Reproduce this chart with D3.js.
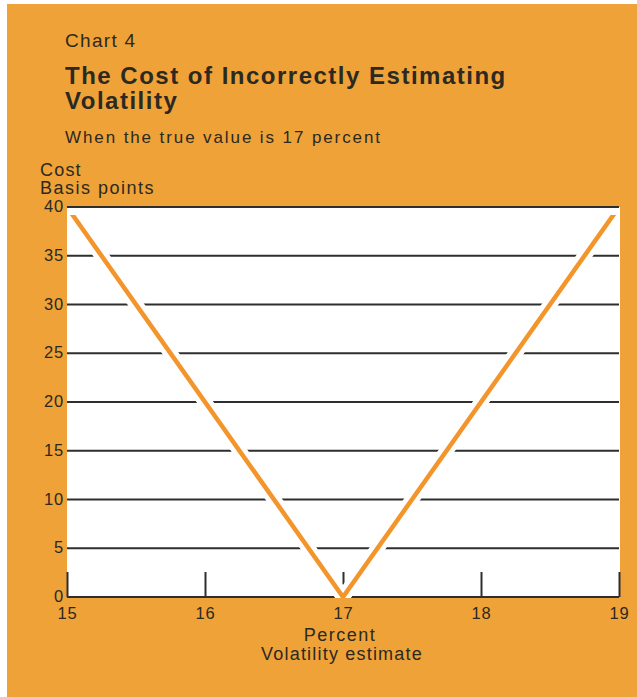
<!DOCTYPE html>
<html>
<head>
<meta charset="utf-8">
<script src="https://cdn.jsdelivr.net/npm/d3@7"></script>
<style>
  html, body { margin: 0; padding: 0; background: #ffffff; }
  svg { display: block; }
  text { font-family: "Liberation Sans", Arial, Helvetica, sans-serif; fill: #2b2922; }
</style>
</head>
<body>
<script>
// Cost of mis-estimating volatility (true value 17 percent)
const volatilityEstimate = [15, 17, 19];      // percent
const costBasisPoints   = [40, 0, 40];        // basis points
const yTickValues = [0, 5, 10, 15, 20, 25, 30, 35, 40];
const xTickValues = [15, 16, 17, 18, 19];

const W = 637, H = 697;
const plot = { left: 67, right: 619, top: 207, bottom: 597 };

const svg = d3.select("body").append("svg")
  .attr("width", W).attr("height", H);

// page panel
svg.append("rect").attr("x", 7).attr("y", 4)
  .attr("width", W - 7).attr("height", H - 4)
  .attr("fill", "#efa237");

// headings
svg.append("text").attr("x", 65).attr("y", 47)
  .style("font-size", "19px").style("letter-spacing", "1.3px")
  .text("Chart 4");
svg.append("text").attr("x", 65).attr("y", 84)
  .style("font-size", "24px").style("font-weight", "bold").style("letter-spacing", "1.5px")
  .text("The Cost of Incorrectly Estimating");
svg.append("text").attr("x", 65).attr("y", 109)
  .style("font-size", "24px").style("font-weight", "bold").style("letter-spacing", "1.5px")
  .text("Volatility");
svg.append("text").attr("x", 65).attr("y", 143)
  .style("font-size", "17px").style("letter-spacing", "1.9px")
  .text("When the true value is 17 percent");
svg.append("text").attr("x", 40).attr("y", 176)
  .style("font-size", "18px").style("letter-spacing", "1.2px")
  .text("Cost");
svg.append("text").attr("x", 40).attr("y", 194)
  .style("font-size", "18px").style("letter-spacing", "1.5px")
  .text("Basis points");

const x = d3.scaleLinear().domain([15, 19]).range([plot.left, plot.right]);
const y = d3.scaleLinear().domain([0, 40]).range([plot.bottom, plot.top]);

// white plotting field
svg.append("rect")
  .attr("x", plot.left).attr("y", plot.top)
  .attr("width", plot.right - plot.left + 1).attr("height", plot.bottom - plot.top)
  .attr("fill", "#ffffff");

// horizontal rules at every y tick
const gridG = svg.append("g");
gridG.selectAll("line.grid").data(yTickValues).join("line")
  .attr("class", "grid")
  .attr("x1", plot.left).attr("x2", plot.right)
  .attr("y1", d => y(d)).attr("y2", d => y(d))
  .attr("stroke", "#2e2e2e").attr("stroke-width", 2);

// x axis ticks rising from the baseline
const xAxis = d3.axisBottom(x).tickValues(xTickValues).tickSize(-25).tickFormat("");
const xAxisG = svg.append("g").attr("transform", `translate(0,${plot.bottom})`).call(xAxis);
xAxisG.select(".domain").remove();
xAxisG.selectAll(".tick line").attr("stroke", "#2e2e2e").attr("stroke-width", 2);

// tick labels
svg.append("g").selectAll("text").data(yTickValues).join("text")
  .attr("x", 64).attr("y", d => y(d) + 5)
  .attr("text-anchor", "end")
  .style("font-size", "16.5px").style("letter-spacing", "0.8px")
  .text(d => d);
svg.append("g").selectAll("text").data(xTickValues).join("text")
  .attr("x", d => x(d) + 0.5).attr("y", 619)
  .attr("text-anchor", "middle")
  .style("font-size", "16.5px").style("letter-spacing", "0.8px")
  .text(d => d);

// axis title
svg.append("text").attr("x", 340).attr("y", 641).attr("text-anchor", "middle")
  .style("font-size", "18px").style("letter-spacing", "1.5px")
  .text("Percent");
svg.append("text").attr("x", 342).attr("y", 660).attr("text-anchor", "middle")
  .style("font-size", "18px").style("letter-spacing", "1.2px")
  .text("Volatility estimate");

// cost curve: white knockout under the orange stroke breaks the rules where it crosses
const defs = svg.append("defs");
defs.append("clipPath").attr("id", "curveClip")
  .append("rect")
  .attr("x", plot.left).attr("y", plot.top + 8)
  .attr("width", plot.right - plot.left + 1).attr("height", plot.bottom - plot.top - 7);

const pts = volatilityEstimate.map((v, i) => [v, costBasisPoints[i]]);
const line = d3.line().x(d => x(d[0])).y(d => y(d[1]));

const curveG = svg.append("g").attr("clip-path", "url(#curveClip)");
curveG.append("path").attr("d", line(pts))
  .attr("fill", "none").attr("stroke", "#ffffff").attr("stroke-width", 14);
curveG.append("path").attr("d", line(pts))
  .attr("fill", "none").attr("stroke", "#f3952a").attr("stroke-width", 4.5);
</script>
</body>
</html>
